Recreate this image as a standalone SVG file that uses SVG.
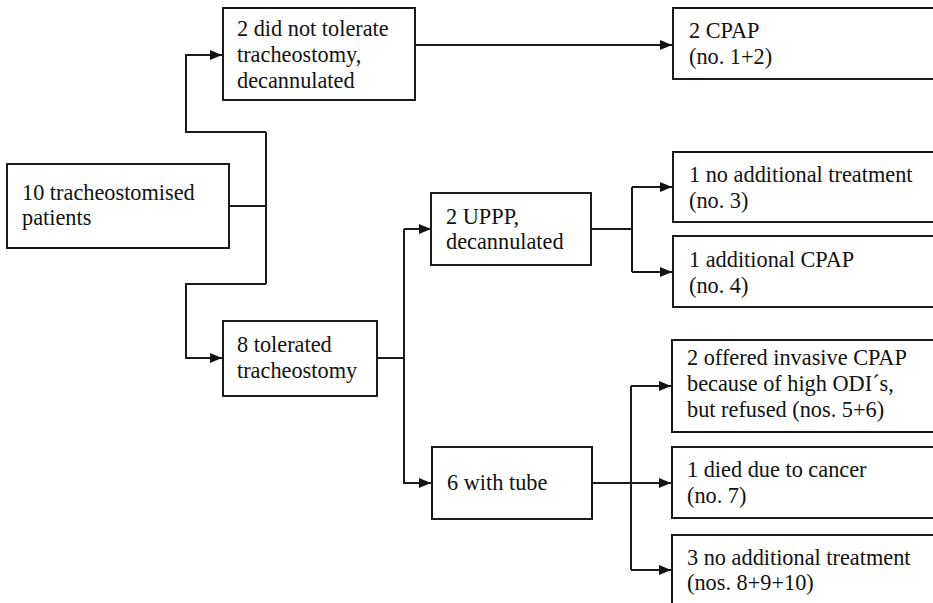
<svg xmlns="http://www.w3.org/2000/svg" width="933" height="603" viewBox="0 0 933 603">
<style>
.box{fill:#fff;stroke:#1a1a1a;stroke-width:2}
.ln{fill:none;stroke:#1a1a1a;stroke-width:2}
.t{font-size:22.3px;fill:#111}
</style>
<defs>
<marker id="ah" viewBox="0 0 12 10" refX="12" refY="5" markerWidth="12" markerHeight="10" markerUnits="userSpaceOnUse" orient="auto">
<path d="M0,0 L12,5 L0,10 Z" fill="#111"/>
</marker>
</defs>
<rect width="933" height="603" fill="#fff"/>
<g id="connectors">
<path class="ln" d="M229,206 H266"/>
<path class="ln" d="M266,132 V284"/>
<path class="ln" d="M266,132 H186 V55 H222" marker-end="url(#ah)"/>
<path class="ln" d="M266,284 H186 V358 H222" marker-end="url(#ah)"/>
<path class="ln" d="M415,45 H672" marker-end="url(#ah)"/>
<path class="ln" d="M377,358 H404"/>
<path class="ln" d="M404,229 H431" marker-end="url(#ah)"/>
<path class="ln" d="M404,229 V483 H431" marker-end="url(#ah)"/>
<path class="ln" d="M591,229 H632"/>
<path class="ln" d="M632,187 V272"/>
<path class="ln" d="M632,187 H672" marker-end="url(#ah)"/>
<path class="ln" d="M632,272 H672" marker-end="url(#ah)"/>
<path class="ln" d="M588,483 H671" marker-end="url(#ah)"/>
<path class="ln" d="M631,386 V570"/>
<path class="ln" d="M631,386 H671" marker-end="url(#ah)"/>
<path class="ln" d="M631,570 H671" marker-end="url(#ah)"/>
</g>
<g font-family="'Liberation Serif', 'Times New Roman', 'DejaVu Serif', serif">
<g id="n-start">
<rect class="box" x="7" y="164" width="222" height="84"/>
<text class="t" x="22" y="200">10 tracheostomised</text>
<text class="t" x="22" y="225">patients</text>
</g>
<g id="n-nottol">
<rect class="box" x="223" y="8" width="192" height="92"/>
<text class="t" x="237" y="36">2 did not tolerate</text>
<text class="t" x="237" y="62">tracheostomy,</text>
<text class="t" x="237" y="88">decannulated</text>
</g>
<g id="n-tol">
<rect class="box" x="223" y="321" width="154" height="75"/>
<text class="t" x="237" y="352">8 tolerated</text>
<text class="t" x="237" y="378">tracheostomy</text>
</g>
<g id="n-cpap">
<rect class="box" x="673" y="8" width="275" height="71"/>
<text class="t" x="689" y="38">2 CPAP</text>
<text class="t" x="689" y="64">(no. 1+2)</text>
</g>
<g id="n-uppp">
<rect class="box" x="431" y="193" width="160" height="72"/>
<text class="t" x="446" y="224">2 UPPP,</text>
<text class="t" x="446" y="249">decannulated</text>
</g>
<g id="n-tube">
<rect class="box" x="432" y="447" width="160" height="72"/>
<text class="t" x="447" y="490">6 with tube</text>
</g>
<g id="n-noadd1">
<rect class="box" x="673" y="152" width="275" height="70"/>
<text class="t" x="689" y="182">1 no additional treatment</text>
<text class="t" x="689" y="208">(no. 3)</text>
</g>
<g id="n-addcpap">
<rect class="box" x="673" y="236" width="275" height="71"/>
<text class="t" x="689" y="267">1 additional CPAP</text>
<text class="t" x="689" y="293">(no. 4)</text>
</g>
<g id="n-offered">
<rect class="box" x="672" y="340" width="275" height="92"/>
<text class="t" x="687" y="365">2 offered invasive CPAP</text>
<text class="t" x="687" y="391">because of high ODI´s,</text>
<text class="t" x="687" y="417">but refused (nos. 5+6)</text>
</g>
<g id="n-died">
<rect class="box" x="672" y="447" width="275" height="71"/>
<text class="t" x="687" y="477">1 died due to cancer</text>
<text class="t" x="687" y="503">(no. 7)</text>
</g>
<g id="n-noadd3">
<rect class="box" x="672" y="535" width="275" height="80"/>
<text class="t" x="687" y="565">3 no additional treatment</text>
<text class="t" x="687" y="590">(nos. 8+9+10)</text>
</g>
</g>
</svg>
